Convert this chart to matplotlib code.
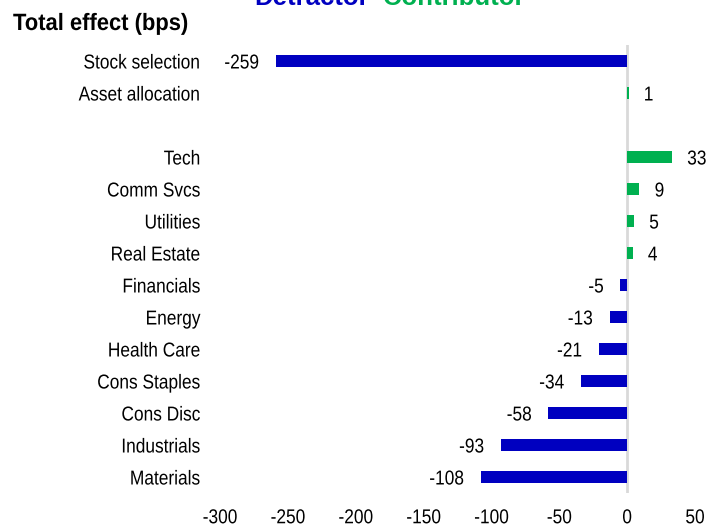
import matplotlib
matplotlib.use("Agg")
import matplotlib.pyplot as plt
from matplotlib.patheffects import AbstractPathEffect
from matplotlib.transforms import Affine2D

plt.rcParams['font.family'] = ['Liberation Sans', 'DejaVu Sans']

categories = ["Stock selection", "Asset allocation", "", "Tech", "Comm Svcs", "Utilities",
              "Real Estate", "Financials", "Energy", "Health Care", "Cons Staples",
              "Cons Disc", "Industrials", "Materials"]
values = [-259, 1, None, 33, 9, 5, 4, -5, -13, -21, -34, -58, -93, -108]
xticks = [-300, -250, -200, -150, -100, -50, 0, 50]

BLUE = "#0000C0"
GREEN = "#00B050"


class HScale(AbstractPathEffect):
    """Horizontally condense text around an anchor (mimics a narrow font)."""
    def __init__(self, sx, anchor="left"):
        super().__init__()
        self.sx = sx
        self.anchor = anchor

    def draw_path(self, renderer, gc, tpath, affine, rgbFace=None):
        xs = affine.transform(tpath.vertices)[:, 0]
        if len(xs) == 0:
            return
        if self.anchor == "left":
            x0 = xs.min()
        elif self.anchor == "right":
            x0 = xs.max()
        else:
            x0 = 0.5 * (xs.min() + xs.max())
        tr = affine + Affine2D().translate(-x0, 0).scale(self.sx, 1).translate(x0, 0)
        renderer.draw_path(gc, tpath, tr, rgbFace)


SX = 0.86
FS = 14.5

W, H = 707, 527
fig = plt.figure(figsize=(W / 100, H / 100), dpi=100)
ax = fig.add_axes([220 / W, 1 - 493 / H, (695 - 220) / W, (493 - 45) / H])

ax.axvline(0, color="#d9d9d9", lw=2, zorder=1)
for i, v in enumerate(values):
    if v is None:
        continue
    c = GREEN if v > 0 else BLUE
    ax.barh(i, v, height=0.365, color=c, zorder=2)
    if v < 0:
        ax.annotate(f"{v}", (v, i), xytext=(-12, 0), textcoords="offset points",
                    ha="right", va="center_baseline", fontsize=FS,
                    path_effects=[HScale(SX, "right")])
    else:
        ax.annotate(f"{v}", (v, i), xytext=(11, 0), textcoords="offset points",
                    ha="left", va="center_baseline", fontsize=FS,
                    path_effects=[HScale(SX, "left")])

ax.set_xlim(-300, 50)
ax.set_ylim(len(categories) - 0.5, -0.5)
ax.set_yticks(range(len(categories)))
ax.set_yticklabels(categories, fontsize=FS, path_effects=[HScale(SX, "right")])
ax.set_xticks(xticks)
ax.set_xticklabels([str(t) for t in xticks], fontsize=FS,
                   path_effects=[HScale(SX, "center")])
ax.tick_params(axis="both", length=0)
ax.tick_params(axis="y", pad=14)
ax.tick_params(axis="x", pad=11)
for s in ax.spines.values():
    s.set_visible(False)

fig.text(13 / W, 1 - 30 / H, "Total effect (bps)", fontsize=17, fontweight="bold",
         ha="left", va="baseline", path_effects=[HScale(0.93, "left")])
fig.text(369 / W, 1 - 5 / H, "Detractor", fontsize=18.5, fontweight="bold", color=BLUE,
         ha="right", va="baseline")
fig.text(383 / W, 1 - 5 / H, "Contributor", fontsize=18.5, fontweight="bold", color=GREEN,
         ha="left", va="baseline")

fig.savefig("out.png", dpi=100)
